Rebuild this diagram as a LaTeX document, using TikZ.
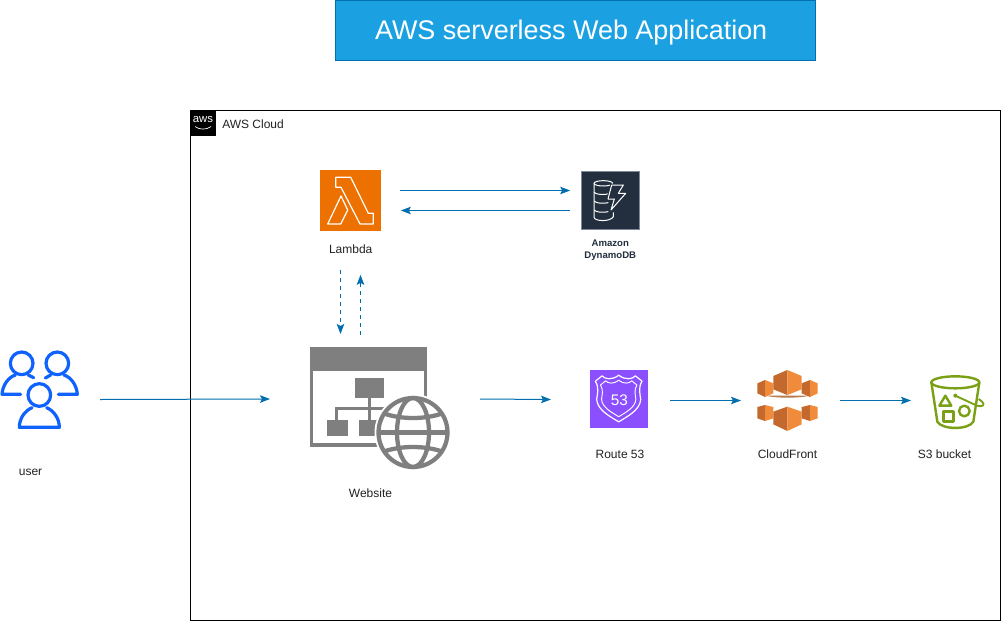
\documentclass[tikz,border=0pt]{standalone}
\usepackage{fontspec}
\setmainfont{Liberation Sans}
\usetikzlibrary{arrows.meta,calc}
\definecolor{flowblue}{HTML}{006EAF}
\definecolor{titlefill}{HTML}{1BA1E2}
\definecolor{lambdaorange}{HTML}{ED7100}
\definecolor{dbnavy}{HTML}{232F3E}
\definecolor{dbedge}{HTML}{7D8998}
\definecolor{routepurple}{HTML}{8C4FFF}
\definecolor{userblue}{HTML}{0F62FE}
\definecolor{sitegrey}{HTML}{7F7F7F}
\definecolor{sgreen}{HTML}{7AA116}
\definecolor{cfleft}{HTML}{C4692D}
\definecolor{cfright}{HTML}{F08B3C}
\definecolor{cfshade}{HTML}{B87B4E}
\definecolor{labelgrey}{HTML}{222222}
\tikzset{
  iconbox/.style={draw=none,inner sep=0pt,outer sep=0pt},
  flowarrow/.style={draw=flowblue,line width=.75pt,-{Stealth[length=7.5pt,width=5.6pt,inset=1.5pt]}},
  flowdash/.style={flowarrow,dash pattern=on 3pt off 3pt},
  caption/.style={inner sep=0pt,text=labelgrey,font=\fontsize{9}{11}\selectfont,align=center},
  glyph/.style={draw=white,line width=.9pt,line join=round},
  dbline/.style={draw=white,line width=.75pt,line join=round},
  userline/.style={draw=userblue,line width=2.4pt,line cap=round,line join=round},
  bucketline/.style={draw=sgreen,line width=1.8pt,line join=round},
  globeline/.style={draw=sitegrey,line width=3.2pt},
}
\newcommand{\cfcube}[7]{%
  \fill[cfleft] (#1,#5) -- (#2,#4) -- (#2,#7) -- (#1,#6) -- cycle;
  \fill[cfright] (#3,#5) -- (#2,#4) -- (#2,#7) -- (#3,#6) -- cycle;}
\newcommand{\shieldoutline}{(-70,-52) -- (-50,-68) .. controls (-42,-58) and (-20,-54) .. (0,-70) .. controls (20,-54) and (42,-58) .. (50,-68) -- (70,-52) .. controls (58,-32) and (64,-15) .. (66,3) .. controls (64,35) and (24,55) .. (0,70) .. controls (-24,55) and (-64,35) .. (-66,3) .. controls (-64,-15) and (-58,-32) .. (-70,-52) -- cycle}
\begin{document}
\begin{tikzpicture}[x=.75pt,y=-.75pt]
\useasboundingbox (0,0) rectangle (1002,621);
\fill[white] (0,0) rectangle (1002,621);

% title
\node[draw=flowblue,fill=titlefill,line width=.75pt,minimum width=360pt,minimum height=45.5pt,inner sep=0pt,text=white,font=\fontsize{20.2}{24}\selectfont] (title) at (575.5,30.5) {\rule{0pt}{17.4pt}AWS serverless Web Application\hspace*{6.5pt}};

% cloud frame
\node[draw=black,line width=.75pt,minimum width=607.5pt,minimum height=382.5pt,inner sep=0pt] (cloud) at (595.5,365.5) {};
\node[fill=black,minimum size=19pt,inner sep=0pt] (awslogo) at (203,123) {};
\node[inner sep=0pt,text=white,font=\fontsize{8.5}{9}\selectfont] (awsword) at (203,120) {aws};
\draw[white,line width=.5pt] (195,126.5) .. controls (200,130) and (206,130) .. (211,126.5);
\node[caption,anchor=west] (cloudlabel) at (222,124) {AWS Cloud};

% icon boxes
\node[iconbox,fill=lambdaorange,minimum width=45.5pt,minimum height=45.5pt] (lambda) at (350.5,200.5) {};
\node[iconbox,fill=dbnavy,draw=dbedge,line width=.6pt,minimum width=44pt,minimum height=44pt] (dynamo) at (610.5,200.5) {};
\node[iconbox,fill=routepurple,minimum width=43.5pt,minimum height=43.5pt] (route) at (619,399) {};
\node[iconbox,minimum width=59.25pt,minimum height=58.5pt] (user) at (39.5,389) {};
\node[iconbox,minimum width=105pt,minimum height=92.25pt] (website) at (380,408.5) {};
\node[iconbox,minimum width=45.75pt,minimum height=46.5pt] (cloudfront) at (787.5,401) {};
\node[iconbox,minimum width=41.25pt,minimum height=41.25pt] (bucket) at (957.5,401.5) {};

% lambda glyph
\draw[glyph] (335.7,177.3) -- (350.7,177.3) -- (368.3,213.3) -- (373.3,213.3) -- (373.3,224) -- (360,224) -- (341,187.3) -- (335.7,187.3) -- cycle;
\draw[glyph] (341,196) -- (347.7,210) -- (340.7,224) -- (327.7,224) -- cycle;

% dynamodb glyph
\begin{scope}[shift={(585,175)},x=.25pt,y=-.25pt]
\draw[dbline] (55,25) ellipse [x radius=28,y radius=8];
\draw[dbline] (27,25) -- (27,128) .. controls (32,140) and (78,140) .. (85,125) -- (85,112);
\draw[dbline] (27,52) .. controls (35,60) and (60,60) .. (72,56);
\draw[dbline] (27,78) .. controls (35,86) and (55,86) .. (70,83);
\draw[dbline] (27,105) .. controls (35,113) and (55,113) .. (70,110);
\draw[dbline] (83,25) -- (83,36);
\fill[dbnavy] (76,26) -- (120,26) -- (104,52) -- (126,52) -- (76,110) -- (86,74) -- (64,74) -- cycle;
\draw[dbline] (80,30) -- (115,30) -- (100,55) -- (122,55) -- (78,105) -- (88,72) -- (69,72) -- cycle;
\end{scope}

% route 53 glyph
\begin{scope}[shift={(618.7,398.5)},x=.25pt,y=-.25pt]
\draw[glyph] \shieldoutline;
\begin{scope}[scale=.78]
\draw[white,line width=.7pt,line join=round] \shieldoutline;
\end{scope}
\end{scope}
\node[inner sep=0pt,text=white,font=\fontsize{11.5}{12}\selectfont] (routenum) at (619.3,400) {53};

% user glyph
\begin{scope}[shift={(0,340)},x=.25pt,y=-.25pt]
\draw[userline] (65,70) circle [radius=34];
\draw[userline] (172,70) circle [radius=34];
\draw[userline] (62,163) -- (6,163) .. controls (8,135) and (25,112) .. (46,105);
\draw[userline] (85,105) -- (101,113);
\draw[userline] (175,163) -- (232,163) .. controls (230,135) and (213,112) .. (192,105);
\draw[userline] (152,105) -- (136,114);
\draw[userline] (118,165) circle [radius=34];
\draw[userline] (96,203) .. controls (75,212) and (58,235) .. (58,262) -- (178,262) .. controls (178,235) and (161,212) .. (140,203);
\end{scope}

% website glyph
\begin{scope}[shift={(300,340)},x=.25pt,y=-.25pt]
\draw[draw=sitegrey,line width=2.4pt] (35,25) rectangle (376,315);
\fill[sitegrey] (30,20) rectangle (381,92);
\fill[sitegrey] (165,115) rectangle (252,175);
\fill[sitegrey] (80,240) rectangle (145,288);
\fill[sitegrey] (178,240) rectangle (240,288);
\draw[sitegrey,line width=2pt] (208,175) -- (208,240);
\draw[sitegrey,line width=2pt] (110,240) -- (110,205) -- (280,205);
\end{scope}
\begin{scope}[shift={(413,432.5)},x=.75pt,y=-.75pt]
\fill[white] (0,0) circle [radius=38.5];
\draw[globeline] (0,0) circle [radius=34.5];
\draw[globeline] (0,0) ellipse [x radius=16,y radius=34.5];
\draw[globeline] (-34.5,0) -- (34.5,0);
\draw[globeline] (-29,-19) .. controls (-12,-13) and (12,-13) .. (29,-19);
\draw[globeline] (-29,19) .. controls (-12,13) and (12,13) .. (29,19);
\end{scope}

% cloudfront glyph
\begin{scope}[shift={(750,365)},x=.25pt,y=-.25pt]
\fill[cfshade] (45,92) .. controls (80,100) and (145,100) .. (180,92) -- cycle;
\cfcube{22}{45}{70}{45}{55}{85}{96}
\cfcube{155}{180}{203}{45}{55}{85}{96}
\cfcube{70}{112}{155}{15}{33}{73}{90}
\cfcube{22}{45}{70}{120}{126}{160}{168}
\cfcube{155}{180}{203}{120}{126}{160}{168}
\cfcube{70}{112}{155}{125}{140}{178}{198}
\end{scope}

% s3 glyph
\begin{scope}[shift={(922,365)},x=.25pt,y=-.25pt]
\draw[bucketline] (100,52) ellipse [x radius=72,y radius=18];
\draw[bucketline] (28,52) -- (46,170) .. controls (60,195) and (140,195) .. (154,170) -- (172,52);
\draw[bucketline] (70,92) -- (52,122) -- (88,122) -- cycle;
\draw[bucketline] (65,140) rectangle (95,170);
\draw[bucketline] (127,138) circle [radius=16];
\fill[sgreen] (100,92) circle [radius=6];
\draw[sgreen,line width=1.4pt] (100,92) -- (165,122) .. controls (182,128) and (192,118) .. (178,108) -- (170,102);
\end{scope}

% captions
\node[caption] (lambdacap) at (350.7,249) {Lambda};
\node[caption,font=\fontsize{7.2}{9}\selectfont\bfseries,text=dbnavy] (dynamocap) at (610.3,250) {Amazon\\DynamoDB};
\node[caption] (sitecap) at (370.5,493) {Website};
\node[caption] (routecap) at (620,454.5) {Route 53};
\node[caption] (cfcap) at (787.5,454.5) {CloudFront};
\node[caption] (s3cap) at (944.5,454.5) {S3 bucket};
\node[caption] (usercap) at (30.5,472.7) {user};

% connectors
\draw[flowarrow] ([shift={(21,10.5)}]user.east) -- ([shift={(-40,-9.5)}]website.west);
\draw[flowarrow] ([shift={(30,-9.5)}]website.east) -- ([shift={(-39,.5)}]route.west);
\draw[flowarrow] ([shift={(22,1.5)}]route.east) -- ([shift={(-16,-.5)}]cloudfront.west);
\draw[flowarrow] ([shift={(22,-.5)}]cloudfront.east) -- ([shift={(-19,-1)}]bucket.west);
\draw[flowarrow] ([shift={(19,-10)}]lambda.east) -- ([shift={(-11,-10)}]dynamo.west);
\draw[flowarrow] ([shift={(-11,10)}]dynamo.west) -- ([shift={(20,10)}]lambda.east);
\draw[flowdash] ([shift={(-10,39)}]lambda.south) -- ([shift={(-39.5,-13)}]website.north);
\draw[flowdash] ([shift={(-19.5,-12)}]website.north) -- ([shift={(10,44)}]lambda.south);
\end{tikzpicture}
\end{document}
